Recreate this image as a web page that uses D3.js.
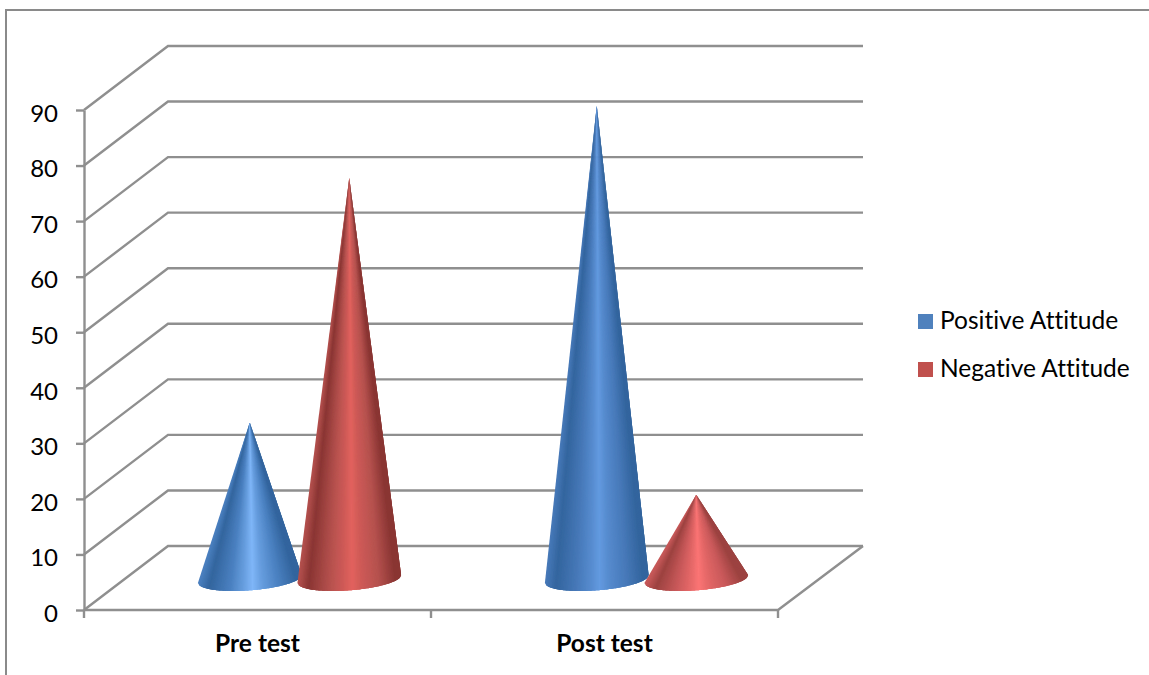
<!DOCTYPE html>
<html>
<head>
<meta charset="utf-8">
<script src="https://cdn.jsdelivr.net/npm/d3@7"></script>
<style>
  html, body { margin: 0; padding: 0; background: #fff; overflow: hidden; }
  text { font-family: Lato, "Open Sans", sans-serif; fill: #000; font-variant-ligatures: none; }
</style>
</head>
<body>
<svg id="chart" width="1149" height="675">
  <defs>
    <filter id="soft" x="-10%" y="-10%" width="120%" height="120%">
      <feGaussianBlur stdDeviation="0.7"></feGaussianBlur>
    </filter>
  </defs>
</svg>
<script>
const categories = ["Pre test", "Post test"];
const seriesNames = ["Positive Attitude", "Negative Attitude"];
const positive = [28, 85];
const negative = [72, 15];
const yTicks = [0, 10, 20, 30, 40, 50, 60, 70, 80, 90];

const svg = d3.select("#chart");
const grey = "#8f8f8f";

// 3d box: front plane plus a fixed depth shift for the back wall
const depthX = 84;
const depthY = -64;

const y = d3.scaleLinear().domain([0, 90]).range([610, 110]);
const x = d3.scaleBand().domain(categories).range([84, 778]);
const x1 = d3.scaleBand().domain(seriesNames).range([-99.5, 99.5]);

const legendColor = d3.scaleOrdinal().domain(seriesNames).range(["#4f81bd", "#c0504d"]);

// outer frame
svg.append("rect")
  .attr("x", 6).attr("y", 10)
  .attr("width", 1160).attr("height", 680)
  .attr("fill", "none")
  .attr("stroke", "#8a8a8a")
  .attr("stroke-width", 2);

// walls
const grid = svg.append("g")
  .attr("fill", "none")
  .attr("stroke", grey)
  .attr("stroke-width", 2.4);

yTicks.forEach(t => {
  grid.append("path")
    .attr("d", `M84,${y(t)}L${84 + depthX},${y(t) + depthY}L863,${y(t) + depthY}`);
});
grid.append("path")
  .attr("d", `M84,${y(0)}L778,${y(0)}L863,${y(0) + depthY}`);

// y axis
const yAxis = svg.append("g")
  .attr("transform", "translate(84,0)")
  .call(d3.axisLeft(y).tickValues(yTicks).tickSize(8).tickSizeOuter(0).tickPadding(18));
yAxis.selectAll("path,line").attr("stroke", grey).attr("stroke-width", 2.4);
yAxis.selectAll("text")
  .style("font-size", "24px")
  .attr("dy", "0.47em");

// x axis, ticks sit on the band edges
const xAxis = svg.append("g")
  .attr("transform", `translate(0,${y(0)})`)
  .call(d3.axisBottom(x).tickSize(0).tickPadding(25));
xAxis.select(".domain").remove();
xAxis.selectAll("text")
  .style("font-size", "24.5px")
  .style("font-weight", "bold");
[0, 1, 2].forEach(i => {
  xAxis.append("line")
    .attr("x1", 84 + i * x.step()).attr("x2", 84 + i * x.step())
    .attr("y1", 0).attr("y2", 8)
    .attr("stroke", grey).attr("stroke-width", 2.4);
});

// shading across each cone, left edge to right edge
const shadeStops = [0, 0.1, 0.3, 0.43, 0.52, 0.61, 0.78, 0.94, 1];
function shade(dark, mid, light) {
  const inner = d3.interpolateRgb(mid, light)(0.55);
  return d3.scaleLinear()
    .domain(shadeStops)
    .range([mid, dark, mid, inner, light, inner, mid, dark, dark])
    .interpolate(d3.interpolateRgb);
}
const coneShades = {
  "Positive Attitude": [shade("#33659e", "#4a80c0", "#7fb6f8"), shade("#33659e", "#4779b9", "#639ae0")],
  "Negative Attitude": [shade("#8a3533", "#b5514e", "#e2625e"), shade("#9c4240", "#c9595a", "#fb7474")]
};

// base ellipse of a cone, slightly tilted by the perspective
const baseA = 52;
const baseB = 11.3;
const baseTilt = -4.4 * Math.PI / 180;
const floorMid = y(0) + depthY / 2 + 1;

function basePoint(cx, u) {
  const th = Math.acos(1 - 2 * Math.min(u, 1));
  const px = -baseA * Math.cos(th);
  const py = baseB * Math.sin(th);
  return [
    cx + px * Math.cos(baseTilt) - py * Math.sin(baseTilt),
    floorMid + px * Math.sin(baseTilt) + py * Math.cos(baseTilt)
  ];
}

// wedges overlap the next one so no seams show
function drawCone(g, cx, value, color) {
  const apex = [cx, y(value) + depthY / 2];
  const steps = 80;
  d3.range(steps).forEach(i => {
    const pts = d3.range(i, Math.min(i + 3, steps) + 1).map(k => basePoint(cx, k / steps));
    g.append("path")
      .attr("d", `M${apex}L${pts.join("L")}Z`)
      .attr("fill", color((i + 0.5) / steps));
  });
}

const cones = svg.append("g").attr("filter", "url(#soft)");
categories.forEach((cat, i) => {
  const center = x(cat) + x.bandwidth() / 2 + depthX / 2;
  const g = cones.append("g");
  drawCone(g, center + x1(seriesNames[0]) + x1.bandwidth() / 2, positive[i], coneShades[seriesNames[0]][i]);
  drawCone(g, center + x1(seriesNames[1]) + x1.bandwidth() / 2, negative[i], coneShades[seriesNames[1]][i]);
});

// legend
const legend = svg.append("g")
  .selectAll("g")
  .data(seriesNames)
  .join("g")
  .attr("transform", (d, i) => `translate(918,${314 + i * 48})`);
legend.append("rect")
  .attr("width", 15).attr("height", 15)
  .attr("fill", d => legendColor(d));
legend.append("text")
  .attr("x", 22).attr("y", 14.5)
  .style("font-size", "24.5px")
  .text(d => d);
</script>
</body>
</html>
